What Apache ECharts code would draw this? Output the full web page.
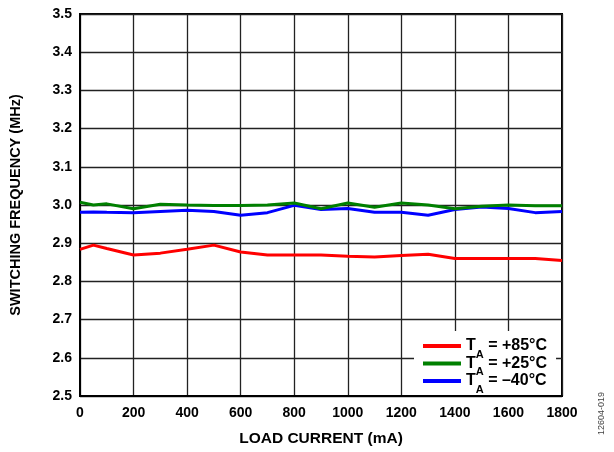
<!DOCTYPE html>
<html>
<head>
<meta charset="utf-8">
<script src="https://cdn.jsdelivr.net/npm/echarts@6/dist/echarts.min.js"></script>
<style>html,body{margin:0;padding:0;background:#fff;}#c{width:614px;height:452px;}</style>
</head>
<body>
<div id="c"></div>
<script>
var loadCurrent = [0, 50, 100, 200, 300, 400, 500, 600, 700, 800, 900, 1000, 1100, 1200, 1300, 1400, 1500, 1600, 1700, 1800];
var freq85 = [2.884, 2.895, 2.886, 2.869, 2.874, 2.884, 2.895, 2.877, 2.869, 2.869, 2.869, 2.866, 2.864, 2.868, 2.871, 2.860, 2.860, 2.860, 2.860, 2.855];
var freq25 = [3.007, 3.000, 3.003, 2.990, 3.002, 3.000, 2.999, 2.999, 3.000, 3.005, 2.990, 3.005, 2.994, 3.005, 3.000, 2.990, 2.997, 3.000, 2.998, 2.998];
var freqM40 = [2.981, 2.982, 2.981, 2.980, 2.983, 2.986, 2.983, 2.973, 2.980, 2.999, 2.988, 2.991, 2.981, 2.981, 2.973, 2.988, 2.995, 2.991, 2.980, 2.983];
var seriesNames = ['+85°C', '+25°C', '–40°C'];
var xTitle = 'LOAD CURRENT (mA)';
var yTitle = 'SWITCHING FREQUENCY (MHz)';
var figId = '12604-019';

function pairs(ys) { return loadCurrent.map(function (x, i) { return [x, ys[i]]; }); }
var FONT = '"Liberation Sans", Arial, sans-serif';
var chart = echarts.init(document.getElementById('c'), null, {renderer: 'canvas'});
var colors = ['#ff0000', '#008000', '#0000ff'];
var datas = [freq85, freq25, freqM40];
chart.setOption({
  animation: false,
  backgroundColor: '#fff',
  grid: {left: 80, right: 52, top: 14, bottom: 54, show: true, borderColor: '#000', borderWidth: 2, backgroundColor: 'transparent'},
  xAxis: {
    type: 'value', min: 0, max: 1800, interval: 200,
    name: xTitle, nameLocation: 'middle', nameGap: 35,
    nameTextStyle: {fontFamily: FONT, fontWeight: 'bold', fontSize: 15.5, color: '#000'},
    axisLine: {show: true, lineStyle: {color: '#000', width: 2}},
    axisTick: {show: false},
    axisLabel: {fontFamily: FONT, fontWeight: 'bold', fontSize: 14, color: '#000', margin: 10,
      formatter: function (v) { return String(v); }},
    splitLine: {show: true, lineStyle: {color: '#222', width: 1.3}}
  },
  yAxis: {
    type: 'value', min: 2.5, max: 3.5, interval: 0.1,
    name: yTitle, nameLocation: 'middle', nameGap: 57, nameRotate: 90,
    nameTextStyle: {fontFamily: FONT, fontWeight: 'bold', fontSize: 14.5, color: '#000'},
    axisLine: {show: true, lineStyle: {color: '#000', width: 2}},
    axisTick: {show: false},
    axisLabel: {fontFamily: FONT, fontWeight: 'bold', fontSize: 14, color: '#000', margin: 8,
      formatter: function (v) { return v.toFixed(1); }},
    splitLine: {show: true, lineStyle: {color: '#222', width: 1.3}}
  },
  legend: {
    orient: 'vertical', left: 414, top: 331,
    backgroundColor: '#fff', padding: [7, 9, 0, 9],
    itemWidth: 38, itemHeight: 4, itemGap: -4.5, icon: 'rect',
    data: seriesNames,
    formatter: function (n) { return '{t|T}{s|A}{t| = ' + n + '}'; },
    textStyle: {
      fontFamily: FONT, fontWeight: 'bold', color: '#000',
      rich: {
        t: {fontFamily: FONT, fontWeight: 'bold', fontSize: 16, color: '#000', lineHeight: 16, verticalAlign: 'top'},
        s: {fontFamily: FONT, fontWeight: 'bold', fontSize: 11, color: '#000', lineHeight: 16, verticalAlign: 'top', padding: [11, 0, 0, 0]}
      }
    }
  },
  graphic: [{
    type: 'text', left: 597, top: 392, rotation: Math.PI / 2,
    style: {text: figId, fontFamily: FONT, fontSize: 9, fill: '#444'}
  }],
  series: seriesNames.map(function (n, i) {
    return {
      name: n, type: 'line', data: pairs(datas[i]), showSymbol: false, symbol: 'none',
      lineStyle: {color: colors[i], width: 3}, itemStyle: {color: colors[i]}, z: 3 - i + 2
    };
  })
});
</script>
</body>
</html>
